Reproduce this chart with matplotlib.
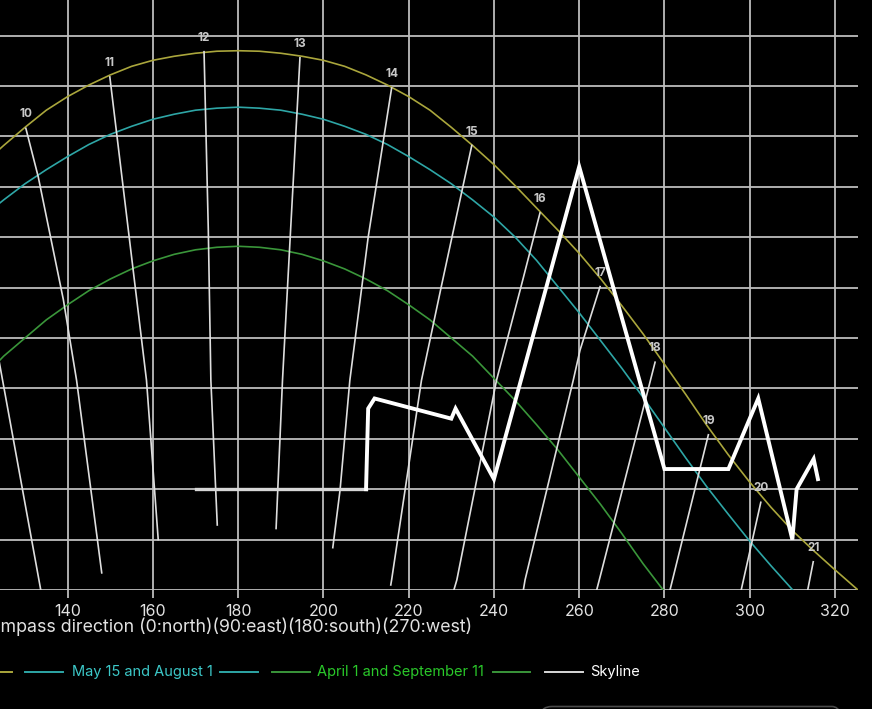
import matplotlib
matplotlib.use("Agg")
import matplotlib.pyplot as plt
from matplotlib.lines import Line2D
from matplotlib.patches import FancyBboxPatch
from matplotlib.transforms import IdentityTransform

plt.rcParams["font.family"] = ["Inter", "DejaVu Sans"]

# Figure size in pixels
W, H, DPI = 872, 709, 100

# Sun paths: compass direction (deg) vs sun altitude (deg)
june_az = [34.6, 40, 45, 50, 55, 60, 65, 70, 75, 80, 85, 90, 95, 100, 105, 110, 115, 120, 125, 130,
           135, 140, 145, 150, 155, 160, 165, 170, 175, 180, 185, 190, 195, 200, 205, 210, 215, 220,
           225, 230, 235, 240, 245, 250, 255, 260, 265, 270, 275, 280, 285, 290, 295, 300, 305, 310,
           315, 320, 325.4]
june_alt = [0, 2.0, 3.9, 5.9, 8.2, 10.7, 13.4, 16.3, 19.4, 22.4, 25.4, 28.2, 30.9, 33.4, 35.7, 37.9,
            40.1, 42.2, 44.1, 45.9, 47.6, 48.95, 50.1, 51.1, 51.95, 52.55, 52.95, 53.25, 53.45, 53.5,
            53.45, 53.25, 52.95, 52.55, 51.95, 51.1, 50.1, 48.95, 47.6, 45.9, 44.1, 42.2, 40.1, 37.9,
            35.7, 33.4, 30.9, 28.2, 25.4, 22.4, 19.4, 16.3, 13.4, 10.7, 8.2, 5.9, 3.9, 2.0, 0]

may_az = [49.9, 55, 60, 65, 70, 75, 80, 85, 90, 95, 100, 105, 110, 115, 120, 125, 130, 135, 140,
          145, 150, 155, 160, 165, 170, 175, 180, 185, 190, 195, 200, 205, 210, 215, 220, 225, 230,
          235, 240, 245, 250, 255, 260, 265, 270, 275, 280, 285, 290, 295, 300, 305, 310.1]
may_alt = [0, 2.4, 4.85, 7.5, 10.2, 13.1, 16.1, 19.1, 22.0, 24.75, 27.5, 30.1, 32.7, 35.0, 37.0,
           38.7, 40.3, 41.7, 43.0, 44.2, 45.2, 46.0, 46.7, 47.2, 47.6, 47.8, 47.9, 47.8, 47.6, 47.2,
           46.7, 46.0, 45.2, 44.2, 43.0, 41.7, 40.3, 38.7, 37.0, 35.0, 32.7, 30.1, 27.5, 24.75, 22.0,
           19.1, 16.1, 13.1, 10.2, 7.5, 4.85, 2.4, 0]

april_az = [80.3, 85, 90, 95, 100, 105, 110, 115, 120, 125, 130, 135, 140, 145, 150, 155, 160, 165,
            170, 175, 180, 185, 190, 195, 200, 205, 210, 215, 220, 225, 230, 235, 240, 245, 250, 255,
            260, 265, 270, 275, 279.7]
april_alt = [0, 2.6, 5.6, 8.5, 11.2, 13.9, 16.4, 18.8, 21.0, 23.2, 25.0, 26.8, 28.3, 29.7, 30.85,
             31.85, 32.65, 33.3, 33.75, 34.0, 34.1, 34.0, 33.75, 33.3, 32.65, 31.85, 30.85, 29.7,
             28.3, 26.8, 25.0, 23.2, 21.0, 18.8, 16.4, 13.9, 11.2, 8.5, 5.6, 2.6, 0]

skyline_az = [170, 210, 210.5, 212, 230, 231, 240, 260, 280, 295, 302, 310, 311, 315, 316]
skyline_alt = [10, 10, 18, 19, 17, 18, 11, 42, 12, 12, 19, 5, 10, 13, 11]

# Hour lines (clock hour, from the June 21 position down to the winter sun)
hours = [9, 10, 11, 12, 13, 14, 15, 16, 17, 18, 19, 20, 21]
hour_az = [
    [116.3, 124.1, 133.7],
    [130.2, 133.1, 139.0, 142.1, 148.0],
    [149.9, 158.5, 161.25],
    [172.0, 173.0, 173.6, 175.1],
    [194.5, 192.3, 190.4, 188.9],
    [216.0, 210.5, 206.2, 203.9, 202.2],
    [234.8, 227.6, 223.0, 216.0, 215.8],
    [250.8, 246.3, 240.6, 231.3, 230.6],
    [264.9, 260.2, 258.6, 247.3, 246.9],
    [277.8, 264.9, 264.1],
    [290.3, 281.3],
    [302.6, 298.0],
    [314.9, 313.6],
]
hour_alt = [
    [40.3, 22.3, 0],
    [45.8, 41.0, 28.8, 20.8, 1.7],
    [50.9, 20.8, 5.0],
    [53.4, 35.7, 20.8, 6.45],
    [52.8, 35.7, 20.8, 6.1],
    [49.8, 35.0, 20.8, 9.9, 4.2],
    [44.1, 30.0, 20.8, 1.0, 0.5],
    [37.4, 30.0, 20.8, 1.0, 0],
    [30.1, 23.8, 20.8, 1.0, 0],
    [22.6, 1.3, 0],
    [15.4, 0],
    [8.7, 0],
    [2.8, 0],
]

xticks = list(range(40, 330, 20))
yticks = list(range(0, 61, 5))
xlabel = "Compass direction (0:north)(90:east)(180:south)(270:west)"

legend_labels = ["June 21", "May 15 and August 1", "April 1 and September 11", "Skyline"]

grid_c = "#bdbdbd"
june_c, may_c, april_c, sky_c = "#aaa63c", "#2ea6a6", "#3a963a", "#ffffff"
hour_c = "#dedede"

fig = plt.figure(figsize=(W / DPI, H / DPI), dpi=DPI, facecolor="black")


def fx(px):
    return px / W


def fy(py):
    return 1 - py / H


# axes runs off the left and top of the picture (cropped screenshot)
left_px, right_px, bottom_px, top_px = -381.7, 858.0, 590.0, -14.8
ax = fig.add_axes([fx(left_px), fy(bottom_px), (right_px - left_px) / W, (bottom_px - top_px) / H])
ax.set_facecolor("black")
ax.set_xlim(34.6, 325.4)
ax.set_ylim(0, 60)

ax.set_xticks(xticks)
ax.set_yticks(yticks)
ax.set_yticklabels([])
ax.grid(True, color=grid_c, lw=1.3)
ax.set_axisbelow(True)
for s in ax.spines.values():
    s.set_visible(False)
ax.tick_params(axis="x", colors=grid_c, length=6, width=1.3, labelcolor="#e2e2e2",
               labelsize=11.5, pad=4)
ax.tick_params(axis="y", length=0)

# sun paths
ax.plot(june_az, june_alt, color=june_c, lw=1.2)
ax.plot(may_az, may_alt, color=may_c, lw=1.2)
ax.plot(april_az, april_alt, color=april_c, lw=1.2)

# hour lines with labels
for h, az, alt in zip(hours, hour_az, hour_alt):
    ax.plot(az, alt, color=hour_c, lw=1.2)
    ax.annotate(str(h), (az[0], alt[0]), xytext=(0, 10), textcoords="offset points",
                ha="center", va="center", fontsize=8.5, fontweight="bold", color="#c8c8c8",
                annotation_clip=False)

# skyline (flat start sits on a grid line and shows lighter)
ax.plot(skyline_az[:2], skyline_alt[:2], color="#d6d6d6", lw=2.4)
ax.plot(skyline_az[1:], skyline_alt[1:], color=sky_c, lw=2.8, solid_joinstyle="miter")

ax.set_xlabel(xlabel, color="#e2e2e2", fontsize=12.8, ha="right", va="center")
ax.xaxis.set_label_coords(fx(472), fy(627), transform=fig.transFigure)

# legend drawn by hand: line - label - line for the sun paths, line - label for skyline
ly = fy(672)
leg_items = [
    (june_c, "#b8b040", [(-120, -82), (0, 12)], -75),
    (may_c, "#3cc8c8", [(25, 63), (220, 258)], 72),
    (april_c, "#2ac82a", [(272, 310), (493, 530)], 317),
    ("#d8d8d8", "#ffffff", [(545, 583)], 590),
]
for (lc, tc, segs, tx), lab in zip(leg_items, legend_labels):
    for a, b in segs:
        fig.add_artist(Line2D([fx(a), fx(b)], [ly, ly], color=lc, lw=1.4, transform=fig.transFigure))
    fig.text(fx(tx), ly, lab, color=tc, fontsize=10.5, ha="left", va="center")

# edge of a rounded panel peeking in at the bottom
fig.add_artist(FancyBboxPatch((540, -40), 304, 42.5, boxstyle="round,pad=0,rounding_size=12",
                              transform=IdentityTransform(), facecolor="none",
                              edgecolor="#4a4a4a", lw=1.2))

fig.savefig("out.png", dpi=DPI, facecolor="black")
